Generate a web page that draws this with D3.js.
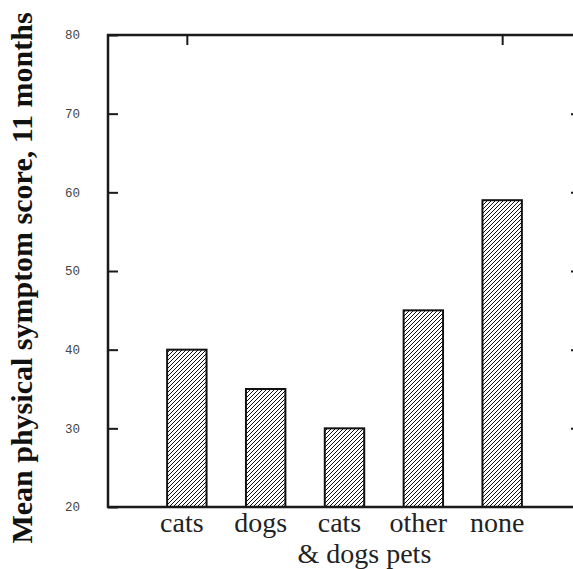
<!DOCTYPE html>
<html>
<head>
<meta charset="utf-8">
<script src="https://cdn.jsdelivr.net/npm/d3@7"></script>
<style>
  body { margin: 0; background: #fff; }
  svg { display: block; }
</style>
</head>
<body>
<div id="chart"></div>
<script>
// Data
const categories = ["cats", "dogs", "cats", "other", "none"];
const secondLine = "& dogs pets";   // runs under "cats" (3rd) and "other"
const scores = [40, 35, 30, 45, 59];
const yTicks = [20, 30, 40, 50, 60, 70, 80];
const topTicks = [1, 5];
const yLabel = "Mean physical symptom score, 11 months";

const width = 573, height = 569;
const margin = {top: 35, right: -8, bottom: 62, left: 108};
const serif = "'Liberation Serif', 'Times New Roman', serif";

const svg = d3.select("#chart").append("svg")
    .attr("width", width)
    .attr("height", height);

// Hatch pattern for the bars
svg.append("defs").append("pattern")
    .attr("id", "hatch")
    .attr("patternUnits", "userSpaceOnUse")
    .attr("width", 4)
    .attr("height", 4)
  .append("path")
    .attr("d", "M-1,1 l2,-2 M0,4 l4,-4 M3,5 l2,-2")
    .attr("stroke", "#111")
    .attr("stroke-width", 1);

const x = d3.scaleLinear()
    .domain([0, 6])
    .range([margin.left, width - margin.right]);

const y = d3.scaleLinear()
    .domain([20, 80])
    .range([height - margin.bottom, margin.top]);

const barW = x(0.5) - x(0);

// Bars
svg.selectAll(".bar")
    .data(scores)
  .join("rect")
    .attr("class", "bar")
    .attr("x", (d, i) => x(i + 1) - barW / 2)
    .attr("y", d => y(d))
    .attr("width", barW)
    .attr("height", d => y(20) - y(d))
    .attr("fill", "url(#hatch)")
    .attr("stroke", "#111")
    .attr("stroke-width", 2);

// Frame
const x0 = x(0), x1 = x(6), yt = y(80), yb = y(20);
svg.append("path")
    .attr("d", `M${x0},${yt} H${x1} V${yb} H${x0} Z`)
    .attr("fill", "none")
    .attr("stroke", "#1a1a1a")
    .attr("stroke-width", 2.5);

// Left axis: inward ticks, mono labels
const leftAxis = svg.append("g")
    .attr("transform", `translate(${x0},0)`)
    .call(d3.axisRight(y).tickValues(yTicks).tickSize(10).tickFormat(""));
leftAxis.select(".domain").remove();
leftAxis.selectAll("line").attr("stroke", "#1a1a1a").attr("stroke-width", 2);

svg.selectAll(".ylab")
    .data(yTicks)
  .join("text")
    .attr("class", "ylab")
    .attr("x", 80)
    .attr("y", d => y(d))
    .attr("dy", "0.35em")
    .attr("text-anchor", "end")
    .style("font-family", "'Liberation Mono', 'DejaVu Sans Mono', monospace")
    .style("font-size", "12.5px")
    .attr("fill", "#444")
    .text(d => d);

// Right axis ticks (inward)
const rightAxis = svg.append("g")
    .attr("transform", `translate(${x1},0)`)
    .call(d3.axisLeft(y).tickValues(yTicks.slice(1, -1)).tickSize(10).tickFormat(""));
rightAxis.select(".domain").remove();
rightAxis.selectAll("line").attr("stroke", "#1a1a1a").attr("stroke-width", 2);

// Top ticks (inward)
const topAxis = svg.append("g")
    .attr("transform", `translate(0,${yt})`)
    .call(d3.axisBottom(x).tickValues(topTicks).tickSize(10).tickFormat(""));
topAxis.select(".domain").remove();
topAxis.selectAll("line").attr("stroke", "#1a1a1a").attr("stroke-width", 2);

// Category labels
svg.selectAll(".cat")
    .data(categories)
  .join("text")
    .attr("class", "cat")
    .attr("x", (d, i) => x(i + 1) - 5)
    .attr("y", 532)
    .attr("text-anchor", "middle")
    .style("font-family", serif)
    .style("font-size", "28px")
    .attr("fill", "#222")
    .text(d => d);

svg.append("text")
    .attr("x", x(3) - 47)
    .attr("y", 563)
    .attr("text-anchor", "start")
    .style("font-family", serif)
    .style("font-size", "28px")
    .attr("fill", "#222")
    .text(secondLine);

// Y axis title
svg.append("text")
    .attr("transform", `translate(32,278) rotate(-90)`)
    .attr("text-anchor", "middle")
    .style("font-family", serif)
    .style("font-weight", "bold")
    .style("font-size", "30px")
    .attr("fill", "#111")
    .text(yLabel);
</script>
</body>
</html>
